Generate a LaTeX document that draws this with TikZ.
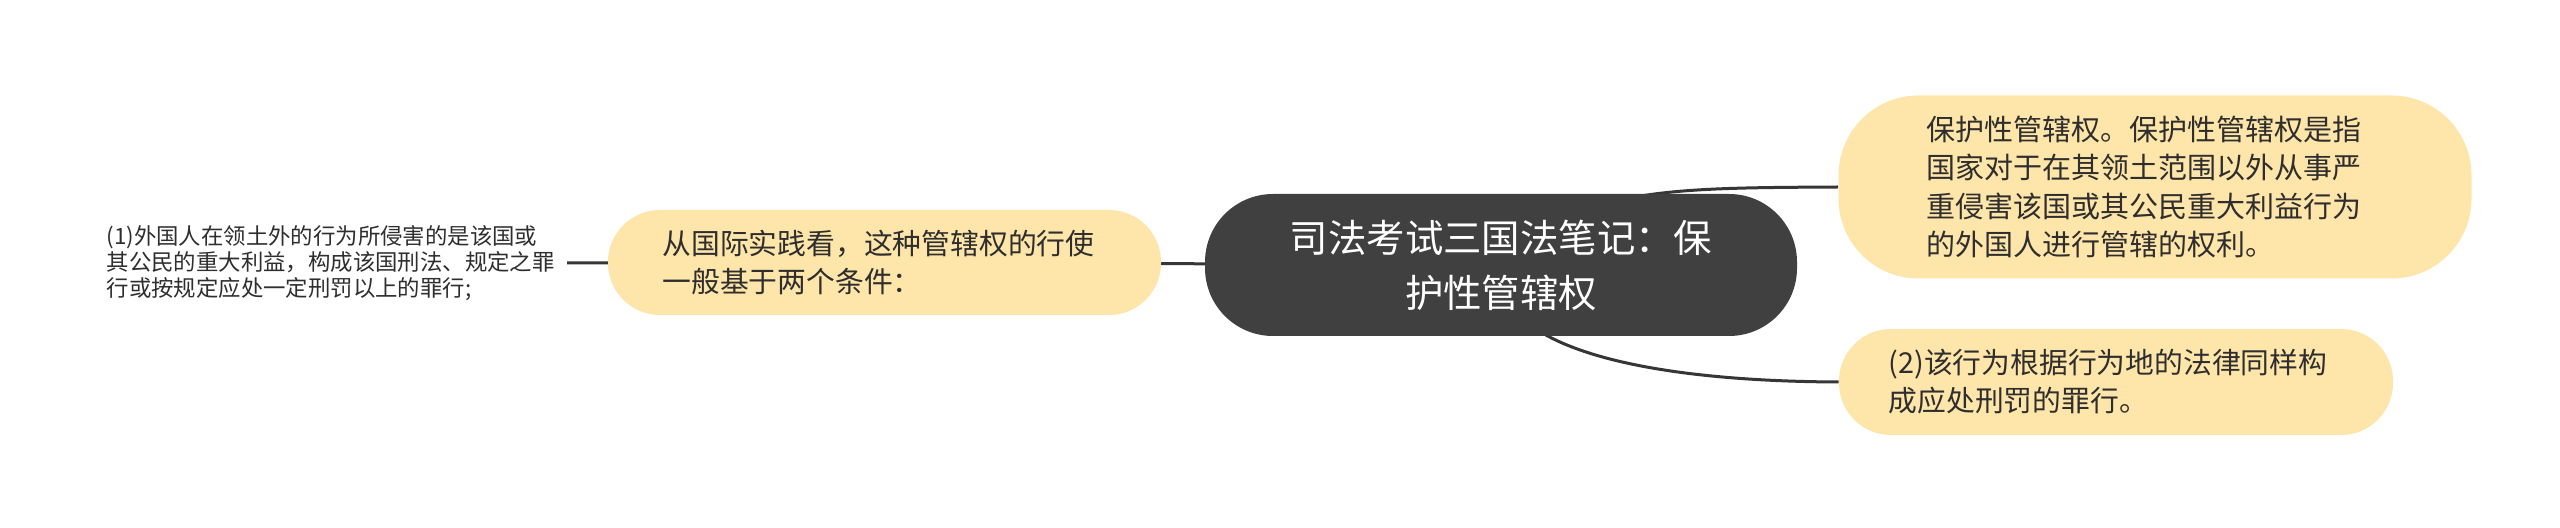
\documentclass[tikz,border=0pt]{standalone}
\usepackage{fontspec}
\setmainfont{Noto Sans CJK SC}
\usetikzlibrary{backgrounds}
\definecolor{yel}{HTML}{FEE5A9}
\definecolor{darkfill}{HTML}{404040}
\definecolor{txt}{HTML}{2E2E2E}
\definecolor{linec}{HTML}{363636}
\begin{document}
\begin{tikzpicture}[x=0.5pt,y=-0.5pt,
 central/.style={fill=darkfill, text=white, rounded corners=34pt, minimum width=296pt, minimum height=71pt, align=center, inner sep=0pt, font=\fontsize{19.2}{27.5}\selectfont},
 topic/.style={fill=yel, text=txt, align=left, inner sep=0pt, font=\fontsize{14.4}{19}\selectfont},
 leaf/.style={text=txt, align=left, inner ysep=0pt, inner xsep=6pt, font=\fontsize{11.2}{13}\selectfont},
 conn/.style={draw=linec, line width=1.5pt}]
\useasboundingbox (0,0) rectangle (2560,528);
\node[central] (c) at (1501,265) {司法考试三国法笔记：保\\护性管辖权};
\node[topic, minimum width=316.5pt, minimum height=91.5pt, rounded corners=40pt, font=\fontsize{14.5}{19.25}\selectfont] (rt) at (2155,187) {保护性管辖权。保护性管辖权是指\rule{11pt}{0pt}\\国家对于在其领土范围以外从事严\\重侵害该国或其公民重大利益行为\\的外国人进行管辖的权利。};
\node[topic, minimum width=277pt, minimum height=53pt, rounded corners=26pt] (rb) at (2116,382) {(2)该行为根据行为地的法律同样构\rule{8pt}{0pt}\\成应处刑罚的罪行。};
\node[topic, minimum width=276.5pt, minimum height=52.5pt, rounded corners=26pt] (l) at (884.5,262.5) {从国际实践看，这种管辖权的行使\rule{6pt}{0pt}\\一般基于两个条件：};
\node[leaf, anchor=east] (lf) at (567,263) {(1)外国人在领土外的行为所侵害的是该国或\\其公民的重大利益，构成该国刑法、规定之罪\\行或按规定应处一定刑罚以上的罪行;};
\begin{scope}[on background layer]
\fill[white] (0,0) rectangle (2560,528);
\draw[conn] (c.center) .. controls (1580,188) and (1660,188) .. (rt.west);
\draw[conn] (c.center) .. controls (1490,340) and (1620,381) .. (rb.west);
\draw[conn] (c.center) -- (l.center);
\draw[conn] (l.center) -- (lf.east);
\end{scope}
\end{tikzpicture}
\end{document}
